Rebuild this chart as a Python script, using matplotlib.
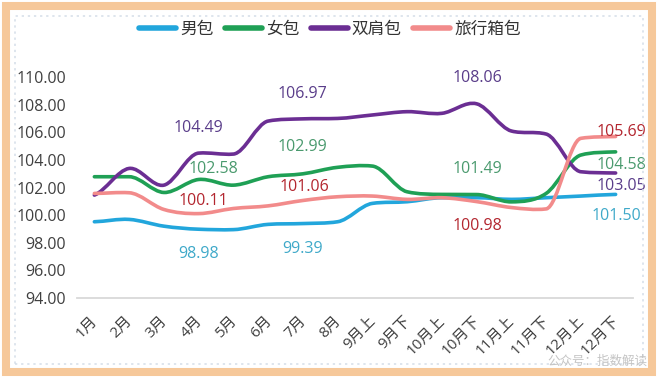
import numpy as np
import matplotlib
matplotlib.use("Agg")
import matplotlib.pyplot as plt
from matplotlib.path import Path
from matplotlib.patches import PathPatch, Rectangle
from matplotlib.lines import Line2D
import matplotlib.transforms as mtransforms

plt.rcParams['font.family'] = ['Open Sans', 'Noto Sans CJK SC', 'DejaVu Sans']

months = ['1月', '2月', '3月', '4月', '5月', '6月', '7月', '8月', '9月上', '9月下',
          '10月上', '10月下', '11月上', '11月下', '12月上', '12月下']

men = [99.52, 99.69, 99.20, 98.98, 98.95, 99.33, 99.39, 99.52, 100.85, 100.97,
       101.26, 101.26, 101.14, 101.26, 101.38, 101.50]
women = [102.78, 102.78, 101.64, 102.58, 102.17, 102.78, 102.99, 103.46, 103.55, 101.69,
         101.50, 101.49, 100.96, 101.57, 104.35, 104.58]
backpack = [101.45, 103.38, 102.17, 104.49, 104.42, 106.81, 106.97, 107.00, 107.25, 107.49,
            107.37, 108.06, 106.09, 105.87, 103.14, 103.05]
luggage = [101.57, 101.62, 100.41, 100.11, 100.48, 100.67, 101.06, 101.33, 101.38, 101.14,
           101.26, 100.98, 100.55, 100.45, 105.56, 105.69]

names = ['男包', '女包', '双肩包', '旅行箱包']
series = [men, women, backpack, luggage]
line_colors = ['#22A6DC', '#1FA055', '#6B2E93', '#F28B8B']
label_colors = ['#3FA9C9', '#4A9A6E', '#5A3D8A', '#B3262F']

# labelled points: (series index, point index, dx px, dy px)
labels = [
    (0, 3, 0, -25), (0, 6, 0, -25), (0, 15, 1, -22),
    (1, 3, 15, 10), (1, 6, 0, 27), (1, 11, 1, 26), (1, 15, 6, -13),
    (2, 3, 0, 25), (2, 6, 0, 25), (2, 11, 1, 26), (2, 15, 6, -13),
    (3, 3, 5, 13), (3, 6, 2, 13), (3, 11, 1, -24), (3, 15, 6, 5),
]


def smooth_path(xs, ys):
    # catmull-rom style tangents, clamped so steep jumps don't overshoot
    xs = np.asarray(xs, float)
    ys = np.asarray(ys, float)
    n = len(ys)
    d = np.diff(ys)
    m = np.zeros(n)
    m[0], m[-1] = d[0] / 2, d[-1] / 2
    for i in range(1, n - 1):
        lim = 3 * min(abs(d[i - 1]), abs(d[i]))
        m[i] = np.clip((d[i - 1] + d[i]) / 2, -lim, lim)
    verts = [(xs[0], ys[0])]
    codes = [Path.MOVETO]
    for i in range(n - 1):
        verts += [(xs[i] + 1 / 3, ys[i] + m[i] / 3),
                  (xs[i + 1] - 1 / 3, ys[i + 1] - m[i + 1] / 3),
                  (xs[i + 1], ys[i + 1])]
        codes += [Path.CURVE4] * 3
    return Path(verts, codes)


fig = plt.figure(figsize=(6.6, 3.78), dpi=100)
ax = fig.add_axes([77 / 660, 80 / 378, 556 / 660, 221 / 378])

x = np.arange(len(months))
for vals, c in zip(series, line_colors):
    patch = PathPatch(smooth_path(x, vals), fill=False, edgecolor=c, lw=2.6,
                      capstyle='round', joinstyle='round', zorder=3)
    ax.add_patch(patch)

for si, pi, dx, dy in labels:
    v = series[si][pi]
    ax.annotate(f'{v:.2f}', (x[pi], v), xytext=(dx, dy), textcoords='offset pixels',
                ha='center', va='center', fontsize=11.5, color=label_colors[si],
                annotation_clip=False, zorder=4)

ax.set_xlim(-0.5, 15.5)
ax.set_ylim(94, 110)
ax.set_yticks(np.arange(94, 111, 2))
ax.set_yticklabels([f'{t:.2f}' for t in np.arange(94, 111, 2)])
ax.set_xticks(x)
ax.set_xticklabels(months, rotation=45, ha='right', va='top', rotation_mode='anchor')
ax.tick_params(axis='y', length=0, pad=8, labelsize=11.5, labelcolor='#404040')
ax.tick_params(axis='x', length=0, pad=11, labelsize=11, labelcolor='#404040')
offset = mtransforms.ScaledTranslation(-4 / 100, 0, fig.dpi_scale_trans)
for lab in ax.get_xticklabels():
    lab.set_transform(lab.get_transform() + offset)

for s in ['left', 'right', 'top']:
    ax.spines[s].set_visible(False)
ax.spines['bottom'].set_color('#D9D9D9')
ax.spines['bottom'].set_linewidth(1.3)

handles = [Line2D([0], [0], color=c, lw=4, solid_capstyle='round') for c in line_colors]
fig.legend(handles, names, loc='center', bbox_to_anchor=(0.5, 1 - 30 / 378), ncol=4,
           frameon=False, fontsize=12, handlelength=2.2, handletextpad=0.25,
           columnspacing=0.7, labelcolor='#333333')

# frame
fig.patches.append(Rectangle((6 / 660, 6 / 378), 646 / 660, 366 / 378, transform=fig.transFigure,
                             fill=False, edgecolor='#F6C89A', lw=5.8, zorder=0))
fig.patches.append(Rectangle((15 / 660, 14 / 378), 628 / 660, 348 / 378, transform=fig.transFigure,
                             fill=False, edgecolor='#D5DEE8', lw=1.1, ls=(0, (1.5, 2.5)), zorder=0))

fig.text(647 / 660, 1 - 361 / 378, '公众号：指数解读', ha='right', va='center',
         fontsize=9, color='#C4C4C4')

fig.savefig('out.png', dpi=100)
